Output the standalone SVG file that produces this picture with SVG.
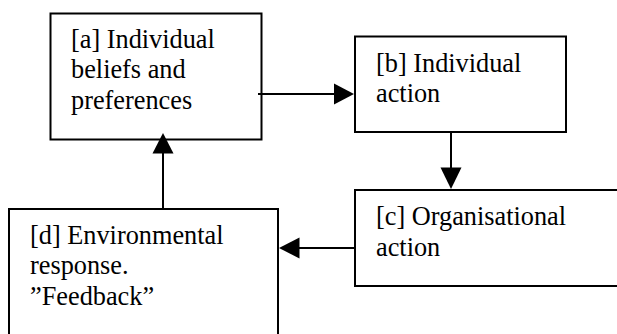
<svg xmlns="http://www.w3.org/2000/svg" width="617" height="334" viewBox="0 0 617 334">
<style>
.box{fill:#fff;stroke:#000;stroke-width:2}
.con{stroke:#000;stroke-width:2;fill:none}
.head{fill:#000;stroke:none}
.t{font-family:"Liberation Serif","Times New Roman",serif;font-size:26.3px;fill:#000}
</style>
<rect width="617" height="334" fill="#fff"/>
<g id="node-a">
<rect class="box" x="50.5" y="13.5" width="211" height="126"/>
<text class="t" x="71" y="47.5">[a] Individual</text>
<text class="t" x="71" y="78">beliefs and</text>
<text class="t" x="71" y="108.5">preferences</text>
</g>
<g id="node-b">
<rect class="box" x="355" y="36.5" width="211" height="95.5"/>
<text class="t" x="376" y="72">[b] Individual</text>
<text class="t" x="376" y="102">action</text>
</g>
<g id="node-c">
<rect class="box" x="355" y="190" width="272" height="96"/>
<text class="t" x="376" y="225">[c] Organisational</text>
<text class="t" x="376" y="256">action</text>
</g>
<g id="node-d">
<rect class="box" x="9" y="209" width="269" height="140"/>
<text class="t" x="30" y="243.5">[d] Environmental</text>
<text class="t" x="30" y="274">response.</text>
<text class="t" x="30" y="304.5">”Feedback”</text>
</g>
<g id="connectors">
<line class="con" x1="258" y1="94" x2="336" y2="94"/>
<polygon class="head" points="354,94 334,83.5 334,104.5"/>
<line class="con" x1="451" y1="132" x2="451" y2="170"/>
<polygon class="head" points="451,189 440.5,167.5 461.5,167.5"/>
<line class="con" x1="355" y1="248" x2="297" y2="248"/>
<polygon class="head" points="279,248 299.5,237.5 299.5,258.5"/>
<line class="con" x1="163" y1="209" x2="163" y2="151"/>
<polygon class="head" points="163,133 152.5,153.5 173.5,153.5"/>
</g>
</svg>
